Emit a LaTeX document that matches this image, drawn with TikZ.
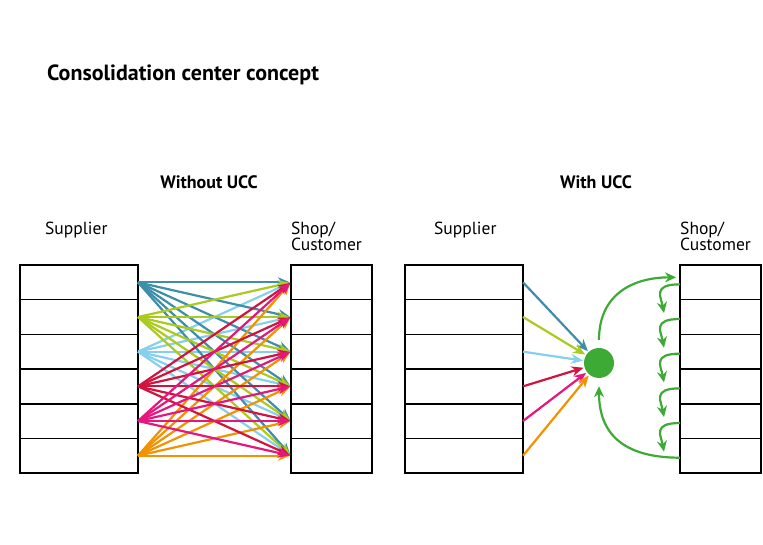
\documentclass[tikz,border=0pt]{standalone}
\usepackage{fontspec}
\setmainfont{PT Sans}
\usetikzlibrary{arrows.meta}
\definecolor{cteal}{HTML}{3E8EAA}
\definecolor{clime}{HTML}{AACB1E}
\definecolor{csky}{HTML}{86D0EE}
\definecolor{ccrimson}{HTML}{D2133D}
\definecolor{cpink}{HTML}{E5177E}
\definecolor{corange}{HTML}{F39200}
\definecolor{cgreen}{HTML}{3DAA35}

\begin{document}
\begin{tikzpicture}[x=1pt, y=-1pt,
  row/.style={draw, line width=1.6pt, minimum height=34.7pt, inner sep=0pt, outer sep=0pt},
  link/.style={line width=2.2pt, -{Stealth[length=12pt,width=10pt]}},
  glink/.style={cgreen, line width=2.2pt, -{Stealth[length=11pt,width=10pt]}},
  lbl/.style={font=\fontsize{17.5}{16}\selectfont, inner sep=0pt},
  head/.style={font=\bfseries\fontsize{18}{18}\selectfont, inner sep=0pt}]
\useasboundingbox (0,0) rectangle (763,545);

\node[font=\bfseries\fontsize{22}{22}\selectfont, inner sep=0pt, anchor=base west] (title) at (47,81) {Consolidation center concept};
\node[head, anchor=base] (without) at (209,189) {Without UCC};
\node[head, anchor=base] (with) at (596,189) {With UCC};

% boxes
\foreach \i in {1,...,6} {
 \node[row, minimum width=118pt, anchor=north west] (sup\i) at (20,{265+(\i-1)*34.67}) {};
 \node[row, minimum width=81pt, anchor=north west] (shop\i) at (291,{265+(\i-1)*34.67}) {};
 \node[row, minimum width=118pt, anchor=north west] (rsup\i) at (405,{265+(\i-1)*34.67}) {};
 \node[row, minimum width=81pt, anchor=north west] (rshop\i) at (680,{265+(\i-1)*34.67}) {};
}
\node[lbl, anchor=base west] (suplbl) at (45,235) {Supplier};
\node[lbl, anchor=base west, align=left] (shoplbl) at (291,251) {Shop/\\Customer};
\node[lbl, anchor=base west] (rsuplbl) at (434,235) {Supplier};
\node[lbl, anchor=base west, align=left] (rshoplbl) at (680,251) {Shop/\\Customer};

% without UCC
\foreach \i/\c in {3/csky,1/cteal,2/clime,6/corange,4/ccrimson,5/cpink} {
 \foreach \j in {1,...,6} {
  \draw[link, \c, shorten >=1pt] (sup\i.east) -- (shop\j.west);
 }
}

% with UCC
\node[circle, fill=cgreen, minimum size=30pt, inner sep=0pt] (ucc) at (599,363) {};
\foreach \i/\c in {1/cteal,2/clime,3/csky,4/ccrimson,5/cpink,6/corange} {
 \draw[link, \c, shorten >=1pt] (rsup\i.east) -- (ucc);
}
\draw[glink, shorten <=8pt, shorten >=4pt] (ucc.north) .. controls +(0,-55) and +(-45,0) .. ([yshift=5pt]rshop1.west);
\draw[glink, shorten >=8pt] ([yshift=-2pt]rshop6.west) .. controls +(-65,0) and +(0,48) .. (ucc.south);
\foreach \i [evaluate=\i as \j using int(\i+1)] in {1,...,5} {
 \draw[glink] ([yshift=-2pt]rshop\i.west) .. controls +(-28,0) and +(-3,-16) .. ([xshift=-16pt,yshift=4pt]rshop\j.west);
}
\end{tikzpicture}
\end{document}
